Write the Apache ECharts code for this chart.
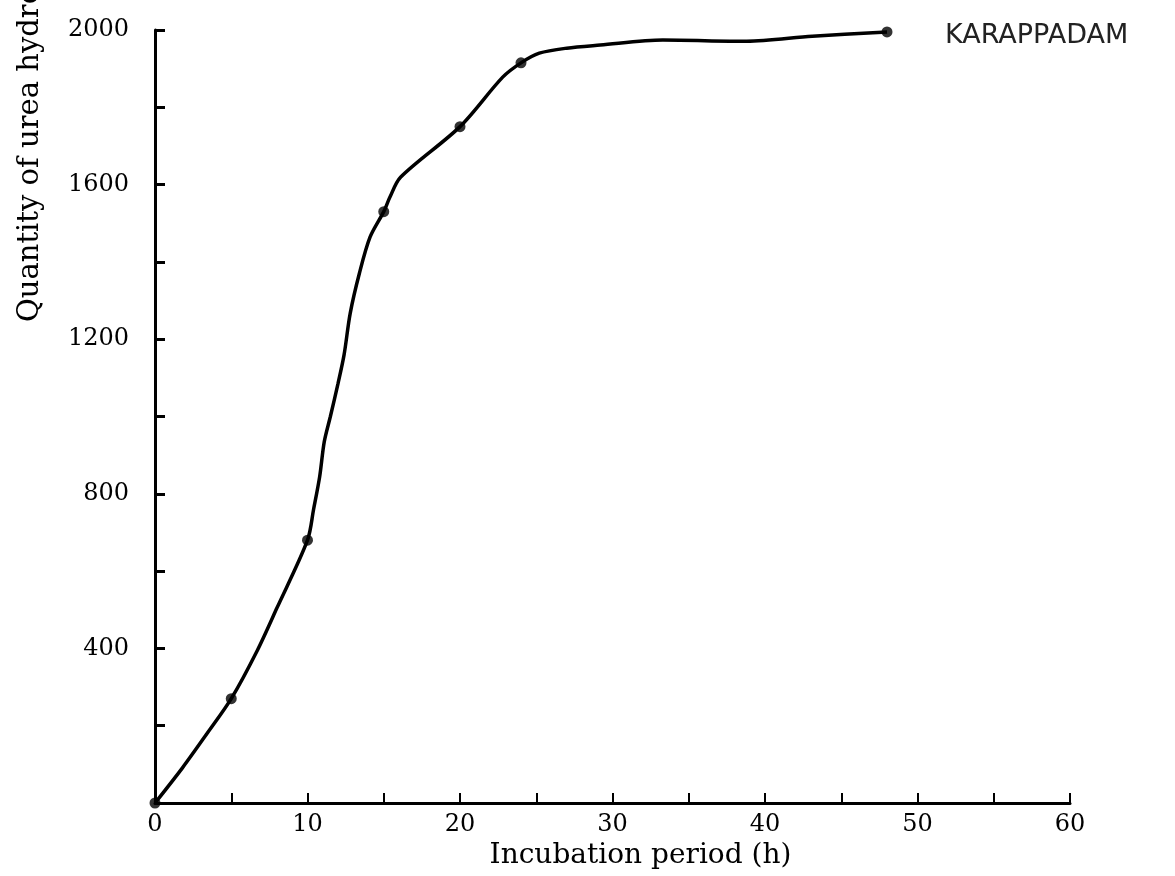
<!DOCTYPE html>
<html>
<head>
<meta charset="utf-8">
<script src="https://cdn.jsdelivr.net/npm/echarts@6/dist/echarts.min.js"></script>
<style>
  html, body { margin: 0; padding: 0; background: #fff; }
  #main { width: 1175px; height: 876px; }
</style>
</head>
<body>
<div id="main"></div>
<script>
// measured points (incubation time h, urea hydrolysed)
var hours = [0, 5, 10, 15, 20, 24, 48];
var urea = [0, 270, 680, 1530, 1750, 1915, 1995];

// hand drawn curve
var curveX = [0, 1.8, 3.4, 5, 6.7, 8.0, 10, 10.4, 10.8, 11.1, 11.5, 12.0, 12.4, 12.8, 13.4, 14.1, 15, 15.4, 16.1, 20, 22.8, 24, 25.2, 27.0, 29.2, 33.3, 38.8, 43.1, 48];
var curveY = [0, 91, 179, 270, 394, 505, 680, 760, 845, 935, 1000, 1085, 1160, 1267, 1370, 1464, 1530, 1567, 1619, 1750, 1878, 1915, 1940, 1953, 1961, 1974, 1971, 1984, 1995];

var soil = 'KARAPPADAM';
var xTitle = 'Incubation period (h)';
var yTitle = 'Quantity of urea hydrolysed (\u00b5g g\u207b\u00b9 soil)';

function pairs(a, b) {
  var out = [];
  for (var i = 0; i < a.length; i++) out.push([a[i], b[i]]);
  return out;
}

var font = 'DejaVu Serif';
var myChart = echarts.init(document.getElementById('main'));
option = {
  backgroundColor: '#fff',
  animation: false,
  grid: { left: 155, right: 105, top: 30, bottom: 73 },
  xAxis: {
    type: 'value',
    min: 0,
    max: 60,
    interval: 5,
    name: xTitle,
    nameLocation: 'middle',
    nameGap: 38,
    nameTextStyle: { fontFamily: font, fontSize: 28, color: '#000', padding: [0, 0, 0, 56] },
    axisLine: { lineStyle: { color: '#000', width: 3 } },
    axisTick: { inside: true, length: 10, lineStyle: { color: '#000', width: 2 } },
    axisLabel: {
      fontFamily: font, fontSize: 24, color: '#000', margin: 10,
      formatter: function (v) { return v % 10 === 0 ? String(v) : ''; }
    },
    splitLine: { show: false }
  },
  yAxis: {
    type: 'value',
    min: 0,
    max: 2000,
    interval: 200,
    axisLine: { show: true, lineStyle: { color: '#000', width: 3 } },
    axisTick: { show: true, inside: true, length: 10, lineStyle: { color: '#000', width: 3 } },
    axisLabel: {
      fontFamily: font, fontSize: 24, color: '#000', margin: 26,
      formatter: function (v) { return (v > 0 && v % 400 === 0) ? String(v) : ''; }
    },
    splitLine: { show: false }
  },
  graphic: [
    {
      type: 'text',
      x: 30,
      y: 322,
      rotation: Math.PI / 2,
      style: {
        text: yTitle,
        font: '29px "DejaVu Serif"',
        fill: '#000',
        align: 'left',
        verticalAlign: 'middle'
      }
    }
  ],
  series: [
    {
      name: soil,
      type: 'line',
      smooth: 0.3,
      symbol: 'none',
      data: pairs(curveX, curveY),
      lineStyle: { color: '#000', width: 3.5 },
      endLabel: {
        show: true,
        formatter: soil,
        distance: 58,
        offset: [0, 4],
        fontFamily: 'DejaVu Sans',
        fontSize: 27,
        color: '#222'
      }
    },
    {
      name: 'points',
      type: 'scatter',
      symbol: 'circle',
      symbolSize: 11,
      data: pairs(hours, urea),
      itemStyle: { color: '#000' }
    }
  ]
};
myChart.setOption(option);
</script>
</body>
</html>
